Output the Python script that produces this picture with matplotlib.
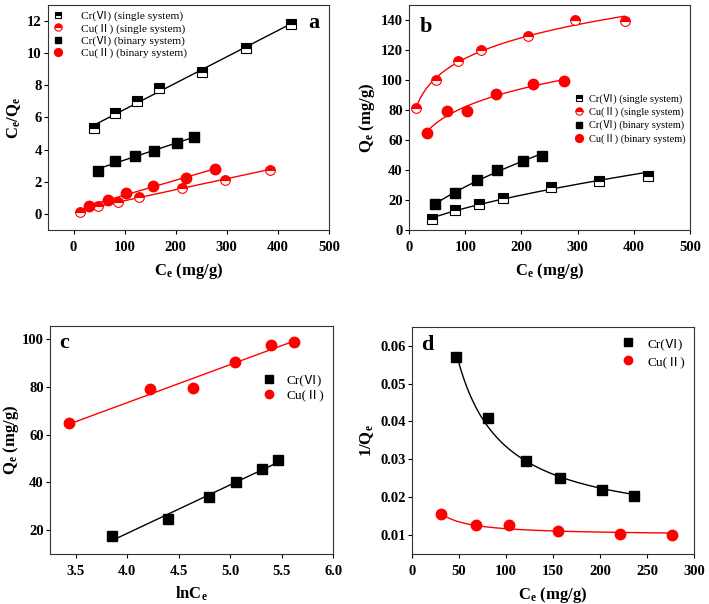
import numpy as np
import matplotlib
matplotlib.use('Agg')
import matplotlib.pyplot as plt
from matplotlib.lines import Line2D

plt.rcParams['font.family'] = ['Liberation Serif', 'Noto Sans CJK SC', 'DejaVu Serif']
plt.rcParams['mathtext.fontset'] = 'custom'
plt.rcParams['mathtext.rm'] = 'Liberation Serif'
plt.rcParams['mathtext.it'] = 'Liberation Serif:italic'
plt.rcParams['mathtext.bf'] = 'Liberation Serif:bold'
plt.rcParams['axes.edgecolor'] = '#333333'

# single system
ce_cr_single = np.array([40, 82, 124, 167, 252, 338, 425])
qe_cr_single = np.array([7.5, 13.1, 17.7, 21.4, 28.5, 32.7, 35.9])
ce_cu_single = np.array([12, 48, 87, 128, 212, 296, 384])
qe_cu_single = np.array([81, 100, 112.5, 120, 129, 140, 139])
# binary system
ce_cr_bin = np.array([47, 81, 121, 157, 202, 236])
qe_cr_bin = np.array([17.5, 24.5, 33.7, 40, 45.7, 49.5])
ce_cu_bin = np.array([31, 68, 103, 155, 221, 276])
qe_cu_bin = np.array([64.7, 79, 79.5, 90.3, 97.5, 99])

lab_cr_s = 'Cr(Ⅵ) (single system)'
lab_cu_s = 'Cu(Ⅱ) (single system)'
lab_cr_b = 'Cr(Ⅵ) (binary system)'
lab_cu_b = 'Cu(Ⅱ) (binary system)'

RED = '#ff0000'
LBL = 12
fig = plt.figure(figsize=(7.09, 6.04), dpi=100)
ax_a = fig.add_axes([0.0677, 0.619, 0.3963, 0.373])
ax_b = fig.add_axes([0.577, 0.619, 0.396, 0.373])
ax_c = fig.add_axes([0.0705, 0.0828, 0.3995, 0.3772])
ax_d = fig.add_axes([0.581, 0.0828, 0.398, 0.3762])

sq_half = dict(marker='s', ms=6.5, color='k', mfc='k', mfcalt='white', fillstyle='top', mec='k', mew=0.8, ls='none')
ci_half = dict(marker='o', ms=7, color=RED, mfc=RED, mfcalt='white', fillstyle='top', mec=RED, mew=0.8, ls='none')
sq_full = dict(marker='s', ms=6.5, color='k', ls='none')
ci_full = dict(marker='o', ms=7.5, color=RED, ls='none')


def style(ax, xl, yl, xt, yt):
    ax.set_xlim(*xl)
    ax.set_ylim(*yl)
    ax.set_xticks(xt)
    ax.set_yticks(yt)
    ax.tick_params(direction='out', length=3, width=0.8, labelsize=10.5, top=False, right=False)
    ax.tick_params(axis='y', pad=1.5)
    ax.tick_params(axis='x', pad=5)
    for t in ax.get_xticklabels() + ax.get_yticklabels():
        t.set_fontweight('bold')


def lin_line(ax, x, y, c):
    p = np.polyfit(x, y, 1)
    xx = np.linspace(x.min(), x.max(), 50)
    ax.plot(xx, np.polyval(p, xx), color=c, lw=1, zorder=1)


def freund_line(ax, x, y, c):
    p = np.polyfit(np.log(x), np.log(y), 1)
    xx = np.linspace(x.min(), x.max(), 200)
    ax.plot(xx, np.exp(np.polyval(p, np.log(xx))), color=c, lw=1, zorder=1)


def recip_line(ax, x, y, c):
    p = np.polyfit(1 / x, y, 1)
    xx = np.linspace(x.min(), x.max(), 200)
    ax.plot(xx, np.polyval(p, 1 / xx), color=c, lw=1, zorder=1)


def leg_handles(items, scale):
    hs = []
    for st, lab in items:
        d = dict(st)
        d['ms'] = d['ms'] * scale
        hs.append(Line2D([], [], label=lab, **d))
    return hs


four = [(sq_half, lab_cr_s), (ci_half, lab_cu_s), (sq_full, lab_cr_b), (ci_full, lab_cu_b)]
two = [(sq_full, 'Cr(Ⅵ)'), (ci_full, 'Cu(Ⅱ)')]

# panel a
lin_line(ax_a, ce_cr_single, ce_cr_single / qe_cr_single, 'k')
lin_line(ax_a, ce_cu_single, ce_cu_single / qe_cu_single, RED)
lin_line(ax_a, ce_cr_bin, ce_cr_bin / qe_cr_bin, 'k')
lin_line(ax_a, ce_cu_bin, ce_cu_bin / qe_cu_bin, RED)
ax_a.plot(ce_cr_single, ce_cr_single / qe_cr_single, **sq_half)
ax_a.plot(ce_cu_single, ce_cu_single / qe_cu_single, **ci_half)
ax_a.plot(ce_cr_bin, ce_cr_bin / qe_cr_bin, **sq_full)
ax_a.plot(ce_cu_bin, ce_cu_bin / qe_cu_bin, **ci_full)
style(ax_a, (-50, 500), (-1, 13), np.arange(0, 501, 100), np.arange(0, 13, 2))
ax_a.set_xlabel(r'$\mathbf{C_e}$ (mg/g)', fontsize=LBL, fontweight='bold', labelpad=5)
ax_a.set_ylabel(r'$\mathbf{C_e/Q_e}$', fontsize=LBL, fontweight='bold', labelpad=3)
ax_a.text(0.945, 0.92, 'a', transform=ax_a.transAxes, fontsize=16, fontweight='bold', ha='center', va='center')
ax_a.legend(handles=leg_handles(four, 0.75), loc='upper left', bbox_to_anchor=(0.014, 0.972),
            frameon=False, fontsize=8.2, handlelength=1.0, handletextpad=1.55,
            labelspacing=0.18, borderpad=0, borderaxespad=0)

# panel b
freund_line(ax_b, ce_cr_single, qe_cr_single, 'k')
freund_line(ax_b, ce_cu_single, qe_cu_single, RED)
freund_line(ax_b, ce_cr_bin, qe_cr_bin, 'k')
freund_line(ax_b, ce_cu_bin, qe_cu_bin, RED)
ax_b.plot(ce_cr_single, qe_cr_single, **sq_half)
ax_b.plot(ce_cu_single, qe_cu_single, **ci_half)
ax_b.plot(ce_cr_bin, qe_cr_bin, **sq_full)
ax_b.plot(ce_cu_bin, qe_cu_bin, **ci_full)
style(ax_b, (0, 500), (0, 150), np.arange(0, 501, 100), np.arange(0, 141, 20))
ax_b.set_xlabel(r'$\mathbf{C_e}$ (mg/g)', fontsize=LBL, fontweight='bold', labelpad=5)
ax_b.set_ylabel(r'$\mathbf{Q_e}$ (mg/g)', fontsize=LBL, fontweight='bold', labelpad=3)
ax_b.text(0.06, 0.9, 'b', transform=ax_b.transAxes, fontsize=16, fontweight='bold', ha='center', va='center')
ax_b.legend(handles=leg_handles(four, 0.75), loc='upper left', bbox_to_anchor=(0.585, 0.605),
            frameon=False, fontsize=7.5, handlelength=1.0, handletextpad=0.5,
            labelspacing=0.28, borderpad=0, borderaxespad=0)

# panel c
ln_cr = np.log(ce_cr_bin)
ln_cu = np.log(ce_cu_bin)
lin_line(ax_c, ln_cr, qe_cr_bin, 'k')
lin_line(ax_c, ln_cu, qe_cu_bin, RED)
ax_c.plot(ln_cr, qe_cr_bin, **sq_full)
ax_c.plot(ln_cu, qe_cu_bin, **ci_full)
style(ax_c, (3.25, 6.0), (10, 105.5), np.arange(3.5, 6.01, 0.5), np.arange(20, 101, 20))
ax_c.set_xlabel(r'$\mathbf{lnC_e}$', fontsize=LBL, fontweight='bold', labelpad=5)
ax_c.set_ylabel(r'$\mathbf{Q_e}$ (mg/g)', fontsize=LBL, fontweight='bold', labelpad=0.5)
ax_c.text(0.05, 0.925, 'c', transform=ax_c.transAxes, fontsize=16, fontweight='bold', ha='center', va='center')
ax_c.legend(handles=leg_handles(two, 0.8), loc='upper left', bbox_to_anchor=(0.75, 0.79),
            frameon=False, fontsize=9.5, handlelength=1.0, handletextpad=0.86,
            labelspacing=0.25, borderpad=0, borderaxespad=0)

# panel d
recip_line(ax_d, ce_cr_bin, 1 / qe_cr_bin, 'k')
recip_line(ax_d, ce_cu_bin, 1 / qe_cu_bin, RED)
ax_d.plot(ce_cr_bin, 1 / qe_cr_bin, **sq_full)
ax_d.plot(ce_cu_bin, 1 / qe_cu_bin, **ci_full)
style(ax_d, (0, 300), (0.005, 0.065), np.arange(0, 301, 50), np.arange(0.01, 0.061, 0.01))
ax_d.set_xlabel(r'$\mathbf{C_e}$ (mg/g)', fontsize=LBL, fontweight='bold', labelpad=5)
ax_d.set_ylabel(r'$\mathbf{1/Q_e}$', fontsize=LBL, fontweight='bold', labelpad=3)
ax_d.text(0.055, 0.92, 'd', transform=ax_d.transAxes, fontsize=16, fontweight='bold', ha='center', va='center')
ax_d.legend(handles=leg_handles(two, 0.8), loc='upper left', bbox_to_anchor=(0.743, 0.952),
            frameon=False, fontsize=9.5, handlelength=1.0, handletextpad=1.0,
            labelspacing=0.45, borderpad=0, borderaxespad=0)

fig.savefig('out.png', dpi=100)
